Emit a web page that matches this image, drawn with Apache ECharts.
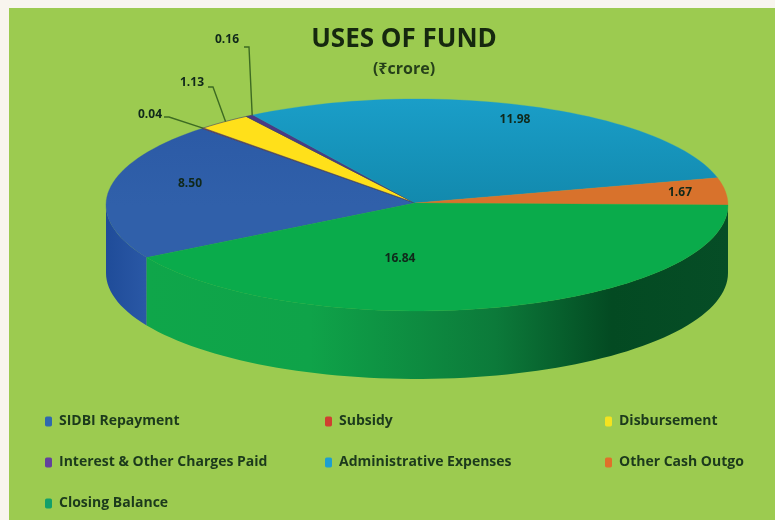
<!DOCTYPE html>
<html>
<head>
<meta charset="utf-8">
<title>Uses of Fund</title>
<script src="https://cdn.jsdelivr.net/npm/echarts@6/dist/echarts.min.js"></script>
<style>
  html, body { margin: 0; padding: 0; background: #f8f5ee; }
  #main { width: 775px; height: 520px; }
</style>
</head>
<body>
<div id="main"></div>
<script>
// data (₹ crore)
var categories = ['SIDBI Repayment', 'Subsidy', 'Disbursement', 'Interest & Other Charges Paid', 'Administrative Expenses', 'Other Cash Outgo', 'Closing Balance'];
var values = [8.50, 0.04, 1.13, 0.16, 11.98, 1.67, 16.84];
var valueLabels = ['8.50', '0.04', '1.13', '0.16', '11.98', '1.67', '16.84'];
var legendColors = ['#2f68ae', '#cf4030', '#f4e31f', '#63419c', '#1d9fd0', '#e0702a', '#12a06a'];
var topColors = [['#2a58a4', '#3060aa'], ['#b02a3a'], ['#ffe01a'], ['#4a3a86'], ['#1a9ec8', '#1289ad'], ['#d8722c'], ['#0aab4b']];
var wallStops = {
  0: [[0, '#1f4c99'], [1, '#2a58a6']],
  6: [[0, '#0fa64a'], [0.28, '#0fa349'], [0.6, '#0c7a3a'], [0.8, '#034a22'], [1, '#064d26']]
};

var font = '"Open Sans", "Noto Sans", sans-serif';
var cx = 417, cy = 205, rx = 311, ry = 106, depth = 68;

var total = values.reduce(function (a, b) { return a + b; }, 0);
// pie runs clockwise, the last slice (closing balance) starts at 3 o'clock
var startDeg = values[values.length - 1] / total * 360;

function rimPoint(deg, drop) {
  var a = deg * Math.PI / 180;
  return [cx + rx * Math.cos(a), cy + ry * Math.sin(a) + (drop || 0)];
}
function arcPoints(from, to, drop) {
  var pts = [];
  var n = Math.max(2, Math.ceil(Math.abs(to - from) / 2));
  for (var i = 0; i <= n; i++) {
    pts.push(rimPoint(from + (to - from) * i / n, drop));
  }
  return pts;
}

// where the value labels sit, some with a leader line to the rim
var labelSpots = {
  0: { x: 190, y: 184 },
  1: { x: 150, y: 115, elbow: [164, 117], line: 226.5 },
  2: { x: 192, y: 83, elbow: [208, 87], line: 232 },
  3: { x: 227, y: 40, elbow: [244, 47], line: 238 },
  4: { x: 515, y: 120 },
  5: { x: 680, y: 193 },
  6: { x: 400, y: 259 }
};

function sliceRange(idx) {
  var deg = startDeg;
  for (var i = 0; i < idx; i++) deg += values[i] / total * 360;
  var to = deg + values[idx] / total * 360;
  if (idx === values.length - 1) { deg -= 360; to -= 360; }
  return [deg, to];
}

function toStops(list) {
  return list.map(function (s) { return { offset: s[0], color: s[1] }; });
}

function makeRender(idx) {
  return function () {
    var range = sliceRange(idx);
    var from = range[0], to = range[1];
    var children = [];
    // front wall, only the part of the rim that faces us
    var wFrom = Math.max(from, 0), wTo = Math.min(to, 180);
    if (wTo > wFrom && wallStops[idx]) {
      var upper = arcPoints(wFrom, wTo, 0);
      var lower = arcPoints(wFrom, wTo, depth).reverse();
      var a = upper[0][0], b = upper[upper.length - 1][0];
      children.push({
        type: 'polygon',
        shape: { points: upper.concat(lower) },
        style: { fill: new echarts.graphic.LinearGradient(b, 0, a, 0, toStops(wallStops[idx]), true) }
      });
    }
    // top face
    var top = [[cx - 2, cy - 2]].concat(arcPoints(from, to, 0));
    var colors = topColors[idx];
    var fill = colors.length > 1
      ? new echarts.graphic.LinearGradient(0, cy - ry, 0, cy, [{ offset: 0, color: colors[0] }, { offset: 1, color: colors[1] }], true)
      : colors[0];
    var thin = idx > 0 && idx < 4;
    children.push({
      type: 'polygon',
      shape: { points: top },
      style: { fill: fill, stroke: thin ? '#3a3f6a' : colors[0], lineWidth: thin ? 0.6 : 0.3 }
    });
    // value label
    var spot = labelSpots[idx];
    if (spot.line) {
      children.push({
        type: 'polyline',
        shape: { points: [spot.elbow, [spot.elbow[0] + 5, spot.elbow[1]], rimPoint(spot.line, 0)] },
        style: { stroke: '#3d6b22', lineWidth: 1.4, fill: null }
      });
    }
    children.push({
      type: 'text',
      z2: 10,
      style: {
        x: spot.x, y: spot.y, text: valueLabels[idx], align: 'center', verticalAlign: 'middle',
        fill: '#10281a', font: 'bold 12px ' + font
      }
    });
    return { type: 'group', children: children };
  };
}

var series = categories.map(function (name, i) {
  return {
    type: 'custom',
    name: name,
    coordinateSystem: 'none',
    silent: true,
    animation: false,
    itemStyle: { color: legendColors[i] },
    data: [[values[i]]],
    renderItem: makeRender(i)
  };
});

function legendColumn(names, left) {
  return {
    orient: 'vertical',
    left: left,
    top: 414,
    data: names,
    selectedMode: false,
    icon: 'roundRect',
    itemWidth: 7,
    itemHeight: 10,
    itemGap: 26,
    padding: 0,
    textStyle: { color: '#1c3a1c', fontFamily: font, fontWeight: 'bold', fontSize: 14, padding: [0, 0, 0, 2], lineHeight: 15 }
  };
}

var chart = echarts.init(document.getElementById('main'));
chart.setOption({
  backgroundColor: '#f8f5ee',
  animation: false,
  title: [
    { text: 'USES OF FUND', left: 399, top: 22, textAlign: 'center', textStyle: { fontFamily: font, fontWeight: 'bold', fontSize: 26, color: '#16280f' } },
    { text: '(₹crore)', left: 399, top: 56, textAlign: 'center', textStyle: { fontFamily: font, fontWeight: 'bold', fontSize: 16, color: '#26401a' } }
  ],
  legend: [
    legendColumn([categories[0], categories[3], categories[6]], 45),
    legendColumn([categories[1], categories[4]], 325),
    legendColumn([categories[2], categories[5]], 605)
  ],
  graphic: [{
    type: 'rect',
    z: -10,
    shape: { x: 9, y: 8, width: 766, height: 512 },
    style: { fill: '#9ccb50' }
  }],
  series: series
});
</script>
</body>
</html>
